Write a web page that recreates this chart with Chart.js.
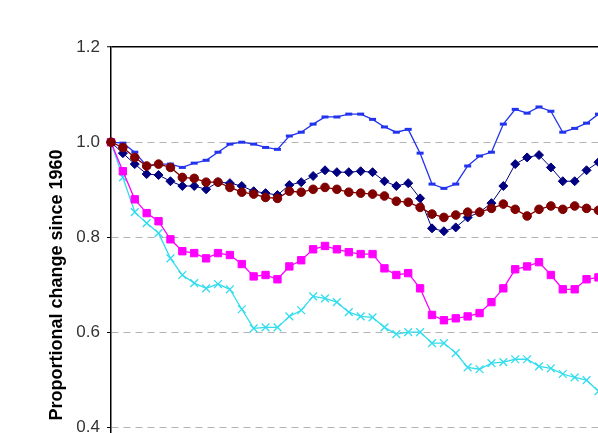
<!DOCTYPE html>
<html>
<head>
<meta charset="utf-8">
<title>Proportional change since 1960</title>
<script src="https://cdn.jsdelivr.net/npm/chart.js@4/dist/chart.umd.min.js"></script>
<style>
    html, body { margin: 0; padding: 0; background: #fff; overflow: hidden; width: 598px; height: 433px; }
    canvas { display: block; }
</style>
</head>
<body>
<canvas id="trendChart" width="680" height="600"></canvas>
<script>
// Years on the x axis (the picture is cropped, only 1960-2001 is visible)
const years = [];
for (let y = 1960; y <= 2005; y++) years.push(String(y));

// Y axis ticks
const yTicks = [0.2, 0.4, 0.6, 0.8, 1.0, 1.2];

// Series values, one per year from 1960
const seriesBlue = [1.000, 0.998, 0.979, 0.950, 0.954, 0.954, 0.947, 0.956, 0.962, 0.979,
    0.996, 1.000, 0.996, 0.989, 0.985, 1.013, 1.021, 1.038, 1.053, 1.053,
    1.059, 1.059, 1.048, 1.032, 1.021, 1.027, 0.977, 0.912, 0.903, 0.912,
    0.950, 0.971, 0.979, 1.038, 1.069, 1.061, 1.074, 1.065, 1.021, 1.029,
    1.040, 1.059];
const seriesNavy = [1.000, 0.977, 0.954, 0.933, 0.931, 0.918, 0.908, 0.908, 0.901, 0.916,
    0.914, 0.908, 0.897, 0.893, 0.889, 0.910, 0.916, 0.929, 0.941, 0.937,
    0.937, 0.939, 0.937, 0.918, 0.908, 0.914, 0.882, 0.819, 0.813, 0.821,
    0.842, 0.853, 0.872, 0.908, 0.954, 0.968, 0.973, 0.947, 0.918, 0.918,
    0.941, 0.958];
const seriesRed = [1.000, 0.989, 0.968, 0.950, 0.954, 0.947, 0.926, 0.924, 0.916, 0.916,
    0.905, 0.895, 0.891, 0.884, 0.882, 0.897, 0.895, 0.901, 0.905, 0.901,
    0.895, 0.893, 0.891, 0.887, 0.876, 0.874, 0.863, 0.849, 0.842, 0.847,
    0.853, 0.853, 0.861, 0.870, 0.859, 0.845, 0.859, 0.866, 0.859, 0.866,
    0.861, 0.857];
const seriesMagenta = [1.000, 0.939, 0.880, 0.851, 0.834, 0.796, 0.771, 0.767, 0.756, 0.767,
    0.763, 0.744, 0.718, 0.721, 0.712, 0.739, 0.752, 0.775, 0.782, 0.775,
    0.769, 0.765, 0.765, 0.735, 0.721, 0.725, 0.693, 0.637, 0.626, 0.630,
    0.634, 0.641, 0.664, 0.693, 0.733, 0.739, 0.748, 0.721, 0.691, 0.691,
    0.712, 0.716];
const seriesCyan = [1.000, 0.926, 0.853, 0.830, 0.809, 0.756, 0.721, 0.704, 0.693, 0.702,
    0.691, 0.649, 0.609, 0.611, 0.611, 0.634, 0.647, 0.676, 0.672, 0.664,
    0.643, 0.634, 0.632, 0.611, 0.597, 0.601, 0.601, 0.578, 0.578, 0.557,
    0.527, 0.523, 0.536, 0.538, 0.544, 0.544, 0.529, 0.525, 0.513, 0.506,
    0.500, 0.477];

function isTop(ctx) {
    return ctx.tick && Math.abs(ctx.tick.value - 1.2) < 1e-6;
}

function lineSet(data, color, style, radius, lineWidth, pointBorder) {
    return {
        data: data,
        borderColor: color,
        backgroundColor: color,
        borderWidth: lineWidth,
        pointStyle: style,
        pointRadius: radius,
        pointBorderWidth: pointBorder,
        pointBackgroundColor: color,
        pointBorderColor: color,
        tension: 0,
        fill: false
    };
}

const ctx = document.getElementById('trendChart').getContext('2d');

new Chart(ctx, {
    type: 'line',
    data: {
        labels: years,
        datasets: [
            lineSet(seriesRed, '#800000', 'circle', 4.3, 1.3, 1),
            lineSet(seriesNavy, '#000080', 'rectRot', 4.5, 1, 1),
            lineSet(seriesBlue, '#2233ee', 'line', 3.5, 1.3, 3),
            lineSet(seriesMagenta, '#ff00ff', 'rect', 5.2, 1.3, 1),
            lineSet(seriesCyan, '#33ddee', 'crossRot', 5.5, 1.3, 1.3)
        ]
    },
    options: {
        responsive: false,
        devicePixelRatio: 1,
        animation: false,
        layout: { padding: { top: 47, left: 0, right: 34, bottom: 0 } },
        plugins: {
            legend: { display: false },
            tooltip: { enabled: false }
        },
        scales: {
            x: {
                grid: { display: false },
                border: { display: false },
                ticks: { font: { family: 'Liberation Sans', size: 14 }, color: '#333' },
                afterFit: function(scale) { scale.height = 77; }
            },
            y: {
                min: 0.2,
                max: 1.2,
                afterBuildTicks: function(scale) {
                    scale.ticks = yTicks.map(v => ({ value: v }));
                },
                afterFit: function(scale) { scale.width = 111; },
                ticks: {
                    padding: 7,
                    color: '#333',
                    font: { family: 'Liberation Sans', size: 17 },
                    callback: v => Number(v).toFixed(1)
                },
                grid: {
                    color: c => isTop(c) ? '#000' : '#b4b4b4',
                    lineWidth: c => isTop(c) ? 1.5 : 1,
                    tickColor: '#000',
                    tickLength: 4,
                    tickWidth: 1
                },
                border: {
                    color: '#000',
                    width: 1.5,
                    dash: c => isTop(c) ? [] : [7, 5]
                },
                title: {
                    display: true,
                    text: 'Proportional change since 1960',
                    color: '#000',
                    font: { family: 'Liberation Sans', size: 18, weight: 'bold' },
                    padding: { top: 46, bottom: 0 }
                }
            }
        }
    }
});
</script>
</body>
</html>
